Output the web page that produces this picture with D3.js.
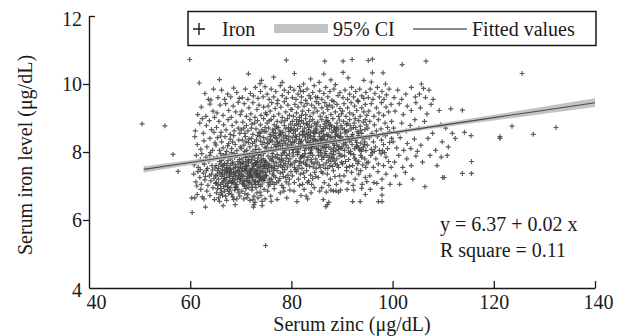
<!DOCTYPE html>
<html>
<head>
<meta charset="utf-8">
<script src="https://cdn.jsdelivr.net/npm/d3@7"></script>
<style>
  html, body { margin: 0; padding: 0; background: #fff; }
  svg { display: block; }
</style>
</head>
<body>
<div id="chart"></div>
<script>
// Scatter: [serum zinc, serum iron], grouped by zinc band
const outliersLeft = [[50.5,8.83],[55.0,8.77],[56.6,7.93],[57.6,7.43],[59.9,10.72],[60.3,6.65],[60.9,6.65],[60.4,6.22],[63.0,6.38],[61.8,10.03]];
const zinc60to65 = [
  [63.6,9.55],[64.1,9.53],[62.9,9.72],[64.6,9.85],
  [61.5,9.1],[62.2,9.32],[63.1,9.05],[63.9,9.41],[64.5,9.2],[64.8,9.02],
  [61.0,8.62],[61.9,8.85],[62.6,8.55],[63.2,8.78],[63.8,8.92],[64.2,8.66],[64.7,8.58],[62.4,8.98],
  [60.9,8.45],[61.4,8.22],[62.1,8.08],[62.7,8.33],[63.3,8.15],[63.9,8.4],[64.4,8.05],[64.9,8.27],
  [60.8,7.62],[61.2,7.9],[61.6,7.55],[62.0,7.78],[62.3,7.95],[62.8,7.64],[63.1,7.85],[63.4,7.52],[63.7,7.72],[64.0,7.98],[64.3,7.6],[64.6,7.81],[64.9,7.53],[62.5,7.7],[63.9,7.9],
  [60.7,7.35],[61.1,7.12],[61.5,7.42],[61.9,7.25],[62.2,7.05],[62.6,7.38],[62.9,7.18],[63.2,7.45],[63.5,7.02],[63.8,7.3],[64.1,7.15],[64.4,7.47],[64.7,7.22],[65.0,7.08],[62.0,7.48],[63.0,7.28],[64.2,7.35],[61.3,7.0],
  [61.4,6.75],[62.1,6.9],[62.7,6.62],[63.3,6.85],[63.9,6.72],[64.5,6.95],[64.8,6.6],[62.4,6.68]
];
const zinc65to70 = [
  [65.8,10.13],
  [65.5,9.6],[66.2,9.82],[66.8,9.55],[67.4,9.7],[68.0,9.62],[68.6,9.88],[69.2,9.75],[69.7,9.58],
  [65.3,9.15],[65.9,9.38],[66.5,9.08],[67.0,9.42],[67.6,9.22],[68.1,9.02],[68.5,9.35],[69.0,9.18],[69.5,9.46],[69.9,9.1],
  [65.2,8.72],[65.7,8.9],[66.1,8.58],[66.6,8.8],[67.1,8.65],[67.5,8.95],[67.9,8.52],[68.3,8.78],[68.7,8.62],[69.1,8.88],[69.5,8.7],[69.8,8.55],
  [65.1,8.2],[65.4,8.42],[65.8,8.05],[66.2,8.3],[66.5,8.12],[66.9,8.45],[67.2,8.02],[67.6,8.25],[67.9,8.38],[68.2,8.1],[68.6,8.48],[68.9,8.22],[69.2,8.04],[69.6,8.35],[69.9,8.15],[66.0,8.47],[67.4,8.18],[68.4,8.3],
  [65.1,7.6],[65.3,7.85],[65.6,7.52],[65.8,7.72],[66.0,7.95],[66.3,7.58],[66.5,7.8],[66.8,7.66],[67.0,7.92],[67.2,7.54],[67.5,7.75],[67.7,7.88],[67.9,7.6],[68.1,7.98],[68.4,7.7],[68.6,7.52],[68.8,7.84],[69.0,7.62],[69.3,7.9],[69.5,7.56],[69.7,7.78],[69.9,7.68],[65.9,7.64],[66.6,7.9],[67.3,7.66],[68.0,7.8],[68.7,7.95],[69.4,7.72],[66.2,7.75],[67.8,7.5],
  [65.0,7.3],[65.2,7.1],[65.4,7.45],[65.6,7.2],[65.8,7.38],[66.0,7.05],[66.2,7.28],[66.4,7.48],[66.6,7.15],[66.8,7.35],[67.0,7.02],[67.2,7.25],[67.4,7.42],[67.6,7.12],[67.8,7.32],[68.0,7.48],[68.2,7.08],[68.4,7.22],[68.6,7.4],[68.8,7.18],[69.0,7.3],[69.2,7.04],[69.4,7.45],[69.6,7.26],[69.8,7.12],[65.5,7.02],[66.1,7.4],[66.7,7.22],[67.3,7.08],[67.9,7.36],[68.5,7.28],[69.1,7.42],[69.7,7.38],[65.3,7.32],[66.9,7.46],[68.3,7.14],[69.9,7.22],[67.7,7.44],[66.3,7.1],[68.9,7.06],
  [65.2,6.8],[65.6,6.65],[66.0,6.92],[66.4,6.72],[66.8,6.85],[67.2,6.58],[67.6,6.78],[68.0,6.95],[68.4,6.68],[68.8,6.88],[69.2,6.62],[69.6,6.8],[65.8,6.55],[66.6,6.98],[67.4,6.9],[68.2,6.75],[69.0,6.96],[69.8,6.7],[65.4,6.92],[67.0,6.7],[68.6,6.6],[69.4,6.9],[66.2,6.82],[67.8,6.85],[65.9,6.75],
  [66.5,6.42],[68.9,6.45]
];
const zinc70to75 = [
  [73.8,10.01],[74.1,10.11],[71.5,10.3],
  [70.3,9.6],[70.9,9.85],[71.4,9.55],[71.9,9.72],[72.5,9.65],[72.9,9.9],[73.4,9.58],[73.9,9.78],[74.4,9.62],[74.8,9.92],
  [70.2,9.2],[70.7,9.42],[71.1,9.05],[71.6,9.3],[72.0,9.12],[72.4,9.45],[72.8,9.02],[73.2,9.25],[73.6,9.38],[74.0,9.08],[74.5,9.32],[74.9,9.15],
  [70.1,8.65],[70.4,8.88],[70.8,8.55],[71.1,8.78],[71.4,8.62],[71.8,8.95],[72.1,8.7],[72.4,8.52],[72.7,8.85],[73.0,8.68],[73.3,8.92],[73.6,8.58],[73.9,8.8],[74.2,8.65],[74.5,8.98],[74.8,8.72],[70.6,8.7],[72.2,8.82],[73.8,8.55],[74.6,8.6],
  [70.1,8.1],[70.3,8.35],[70.6,8.2],[70.9,8.45],[71.2,8.05],[71.5,8.28],[71.8,8.15],[72.1,8.4],[72.4,8.02],[72.7,8.3],[73.0,8.18],[73.3,8.48],[73.6,8.08],[73.9,8.32],[74.2,8.22],[74.5,8.42],[74.8,8.12],[70.8,8.02],[71.6,8.38],[72.3,8.25],[73.1,8.36],[73.8,8.46],[74.6,8.28],[72.9,8.08],[71.0,8.3],
  [70.0,7.55],[70.2,7.8],[70.4,7.65],[70.6,7.95],[70.8,7.52],[71.0,7.72],[71.2,7.88],[71.4,7.6],[71.6,7.78],[71.8,7.5],[72.0,7.92],[72.2,7.68],[72.4,7.85],[72.6,7.58],[72.8,7.75],[73.0,7.98],[73.2,7.62],[73.4,7.82],[73.6,7.55],[73.8,7.7],[74.0,7.9],[74.2,7.64],[74.4,7.8],[74.6,7.52],[74.8,7.74],[70.5,7.7],[71.1,7.58],[71.7,7.92],[72.3,7.52],[72.9,7.66],[73.5,7.92],[74.1,7.76],[74.7,7.6],[70.9,7.84],[72.1,7.78],[73.3,7.72],[74.5,7.96],[71.5,7.68],[73.9,7.58],[72.7,7.9],
  [70.0,7.2],[70.2,7.42],[70.4,7.08],[70.6,7.3],[70.8,7.15],[71.0,7.45],[71.2,7.02],[71.4,7.28],[71.6,7.38],[71.8,7.1],[72.0,7.32],[72.2,7.48],[72.4,7.18],[72.6,7.4],[72.8,7.05],[73.0,7.26],[73.2,7.44],[73.4,7.12],[73.6,7.34],[73.8,7.22],[74.0,7.46],[74.2,7.06],[74.4,7.3],[74.6,7.16],[74.8,7.4],[70.3,7.28],[70.7,7.46],[71.1,7.22],[71.5,7.12],[71.9,7.44],[72.3,7.26],[72.7,7.14],[73.1,7.36],[73.5,7.04],[73.9,7.28],[74.3,7.42],[74.7,7.24],[70.5,7.14],[71.3,7.36],[72.1,7.06],[72.9,7.46],[73.7,7.16],[74.5,7.2],[71.7,7.24],[73.3,7.32],
  [70.2,6.85],[70.6,6.62],[71.0,6.92],[71.4,6.75],[71.8,6.58],[72.2,6.88],[72.6,6.7],[73.0,6.95],[73.4,6.65],[73.8,6.82],[74.2,6.55],[74.6,6.9],[70.8,6.78],[71.6,6.95],[72.4,6.6],[73.2,6.8],[74.0,6.72],[74.8,6.62],[72.8,6.52],[71.2,6.66],
  [72.5,6.38],[72.6,6.45],[74.2,6.42],[74.9,5.25]
];
const zinc75to80 = [
  [79.0,10.7],[76.5,10.2],[78.2,10.05],
  [75.2,9.7],[75.6,9.55],[76.0,9.85],[76.5,9.62],[76.9,9.78],[77.3,9.52],[77.8,9.95],[78.2,9.66],[78.6,9.82],[79.0,9.58],[79.4,9.75],[79.8,9.9],
  [75.1,9.1],[75.4,9.35],[75.8,9.2],[76.1,9.45],[76.5,9.05],[76.8,9.28],[77.2,9.42],[77.5,9.12],[77.9,9.32],[78.2,9.02],[78.6,9.48],[78.9,9.18],[79.3,9.38],[79.6,9.08],[79.9,9.25],
  [75.0,8.6],[75.2,8.85],[75.5,8.7],[75.8,8.52],[76.0,8.95],[76.3,8.65],[76.6,8.8],[76.9,8.55],[77.2,8.9],[77.4,8.72],[77.7,8.62],[78.0,8.88],[78.3,8.58],[78.6,8.78],[78.9,8.68],[79.2,8.98],[79.5,8.6],[79.8,8.82],[75.6,8.92],[76.4,8.58],[77.1,8.75],[77.9,8.52],[78.7,8.92],[79.4,8.72],[76.8,8.68],
  [75.0,8.15],[75.2,8.38],[75.4,8.05],[75.6,8.28],[75.8,8.45],[76.0,8.12],[76.2,8.32],[76.4,8.02],[76.6,8.22],[76.8,8.42],[77.0,8.08],[77.2,8.3],[77.4,8.18],[77.6,8.48],[77.8,8.1],[78.0,8.35],[78.2,8.2],[78.4,8.44],[78.6,8.04],[78.8,8.26],[79.0,8.4],[79.2,8.14],[79.4,8.36],[79.6,8.06],[79.8,8.3],[75.3,8.25],[75.9,8.35],[76.5,8.48],[77.1,8.4],[77.7,8.25],[78.3,8.12],[78.9,8.08],[79.5,8.46],[76.9,8.16],[78.5,8.32],
  [75.0,7.7],[75.2,7.52],[75.4,7.88],[75.6,7.65],[75.8,7.8],[76.0,7.55],[76.2,7.95],[76.4,7.72],[76.6,7.6],[76.8,7.85],[77.0,7.68],[77.2,7.92],[77.4,7.58],[77.6,7.78],[77.8,7.62],[78.0,7.9],[78.2,7.54],[78.4,7.75],[78.6,7.98],[78.8,7.66],[79.0,7.82],[79.2,7.56],[79.4,7.72],[79.6,7.94],[79.8,7.62],[75.5,7.6],[76.1,7.76],[76.7,7.52],[77.3,7.82],[77.9,7.7],[78.5,7.6],[79.1,7.9],[79.7,7.8],[76.3,7.86],[78.1,7.8],
  [75.1,7.3],[75.4,7.1],[75.7,7.42],[76.0,7.2],[76.3,7.35],[76.6,7.05],[76.9,7.25],[77.2,7.45],[77.5,7.15],[77.8,7.38],[78.1,7.02],[78.4,7.28],[78.7,7.48],[79.0,7.12],[79.3,7.32],[79.6,7.2],[79.9,7.42],[75.8,7.05],[76.5,7.46],[77.1,7.1],[77.7,7.22],[78.3,7.4],[78.9,7.25],[79.5,7.06],[76.2,7.12],
  [75.3,6.85],[75.9,6.7],[76.6,6.92],[77.2,6.6],[77.8,6.8],[78.4,6.95],[78.5,6.85],[79.1,6.65],[79.7,6.88],[76.0,6.55]
];
const zinc80to85 = [
  [80.6,10.31],[82.4,10.0],[83.8,10.15],
  [80.2,9.6],[80.5,9.82],[80.9,9.55],[81.3,9.7],[81.6,9.92],[82.0,9.62],[82.4,9.78],[82.8,9.52],[83.1,9.85],[83.5,9.66],[83.8,9.58],[84.2,9.75],[84.5,9.95],[84.8,9.62],[81.8,9.8],
  [80.1,9.25],[80.4,9.05],[80.7,9.4],[81.0,9.15],[81.3,9.32],[81.6,9.02],[81.9,9.45],[82.2,9.2],[82.5,9.35],[82.8,9.1],[83.1,9.42],[83.4,9.22],[83.7,9.05],[84.0,9.38],[84.3,9.15],[84.6,9.3],[84.9,9.48],[82.0,9.08],
  [80.0,8.7],[80.2,8.9],[80.4,8.55],[80.6,8.78],[80.8,8.62],[81.0,8.95],[81.2,8.68],[81.4,8.82],[81.6,8.52],[81.8,8.75],[82.0,8.92],[82.2,8.6],[82.4,8.85],[82.6,8.7],[82.8,8.98],[83.0,8.56],[83.2,8.8],[83.4,8.65],[83.6,8.9],[83.8,8.58],[84.0,8.76],[84.2,8.95],[84.4,8.62],[84.6,8.84],[84.8,8.7],[80.5,8.66],[81.5,8.9],[82.5,8.52],[83.5,8.72],[84.5,8.55],
  [80.0,8.2],[80.2,8.42],[80.4,8.08],[80.6,8.3],[80.8,8.15],[81.0,8.45],[81.2,8.02],[81.4,8.25],[81.6,8.38],[81.8,8.12],[82.0,8.32],[82.2,8.48],[82.4,8.18],[82.6,8.05],[82.8,8.36],[83.0,8.22],[83.2,8.44],[83.4,8.1],[83.6,8.28],[83.8,8.4],[84.0,8.06],[84.2,8.24],[84.4,8.46],[84.6,8.16],[84.8,8.34],[80.3,8.28],[80.9,8.36],[81.5,8.14],[82.1,8.22],[82.7,8.44],[83.3,8.3],[83.9,8.16],[84.5,8.38],[81.1,8.1],[83.7,8.48],
  [80.1,7.65],[80.3,7.88],[80.6,7.55],[80.9,7.75],[81.2,7.92],[81.5,7.6],[81.8,7.82],[82.1,7.52],[82.4,7.7],[82.7,7.95],[83.0,7.62],[83.3,7.85],[83.6,7.58],[83.9,7.78],[84.2,7.9],[84.5,7.66],[84.8,7.8],[80.7,7.7],[81.3,7.5],[81.9,7.68],[82.5,7.86],[83.1,7.76],[83.7,7.96],[84.3,7.56],[84.9,7.52],[80.4,7.98],[81.6,7.72],[82.8,7.64],[84.0,7.7],[82.2,7.9],
  [80.2,7.3],[80.6,7.1],[81.0,7.42],[81.4,7.2],[81.8,7.35],[82.2,7.05],[82.6,7.25],[83.0,7.45],[83.4,7.15],[83.8,7.32],[84.2,7.22],[84.6,7.4],[80.8,7.48],[81.6,7.02],[82.4,7.38],[83.2,7.1],[84.0,7.05],[84.8,7.28],
  [80.5,6.85],[81.1,6.54],[81.9,6.72],[82.5,6.9],[83.2,6.62],[83.9,6.8],[84.5,6.95],[82.9,6.7]
];
const zinc85to90 = [
  [86.6,10.67],[86.4,10.29],[85.5,10.05],[87.8,10.12],
  [85.2,9.6],[85.6,9.8],[86.0,9.55],[86.4,9.72],[86.8,9.9],[87.2,9.62],[87.6,9.78],[88.0,9.52],[88.4,9.85],[88.7,9.98],[89.2,9.66],[89.6,9.75],
  [85.1,9.2],[85.4,9.42],[85.7,9.05],[86.0,9.3],[86.3,9.15],[86.6,9.45],[86.9,9.02],[87.2,9.25],[87.5,9.38],[87.8,9.1],[88.1,9.32],[88.4,9.48],[88.7,9.18],[89.0,9.4],[89.3,9.05],[89.6,9.28],[89.9,9.12],[87.0,9.35],
  [85.0,8.65],[85.2,8.88],[85.5,8.55],[85.7,8.75],[86.0,8.95],[86.2,8.62],[86.5,8.82],[86.7,8.7],[87.0,8.52],[87.2,8.92],[87.5,8.68],[87.7,8.8],[88.0,8.58],[88.2,8.98],[88.5,8.72],[88.7,8.6],[89.0,8.85],[89.2,8.66],[89.5,8.94],[89.7,8.56],[85.9,8.6],[86.8,8.9],[87.9,8.76],[88.9,8.52],[89.8,8.78],[86.3,8.5],[87.4,8.86],[88.4,8.64],
  [85.0,8.1],[85.2,8.32],[85.4,8.2],[85.6,8.45],[85.8,8.05],[86.0,8.28],[86.2,8.4],[86.4,8.12],[86.6,8.35],[86.8,8.02],[87.0,8.22],[87.2,8.46],[87.4,8.15],[87.6,8.3],[87.8,8.08],[88.0,8.42],[88.2,8.25],[88.4,8.12],[88.6,8.36],[88.8,8.04],[89.0,8.2],[89.2,8.48],[89.4,8.16],[89.6,8.32],[89.8,8.1],[85.3,8.08],[85.9,8.38],[86.5,8.22],[87.1,8.34],[87.7,8.44],[88.3,8.02],[88.9,8.3],[89.5,8.42],[86.1,8.16],[88.7,8.46],
  [85.1,7.7],[85.4,7.9],[85.7,7.55],[86.0,7.78],[86.3,7.62],[86.6,7.95],[86.9,7.68],[87.2,7.52],[87.5,7.85],[87.8,7.72],[88.1,7.58],[88.4,7.92],[88.7,7.65],[89.0,7.8],[89.3,7.55],[89.6,7.88],[89.9,7.7],[85.5,7.62],[86.4,7.84],[87.3,7.76],[88.2,7.82],[89.1,7.62],[85.8,7.98],[86.7,7.52],[87.6,7.6],[88.5,7.74],[89.4,7.96],[87.0,7.9],
  [85.3,7.25],[85.9,7.42],[86.5,7.1],[87.1,7.35],[87.7,7.2],[88.3,7.45],[88.9,7.05],[89.5,7.3],[86.2,7.38],[87.4,7.02],[88.6,7.28],[89.8,7.15],
  [85.6,6.85],[86.3,6.6],[86.9,6.82],[87.4,6.52],[87.8,6.88],[88.3,6.85],[88.8,6.86],[89.3,6.82],[89.7,6.88],[86.0,6.95],
  [86.8,6.39],[87.1,6.45]
];
const zinc90to95 = [
  [90.2,10.67],[92.0,10.72],[90.2,10.34],[91.2,10.18],[94.3,10.11],
  [90.2,9.6],[90.6,9.82],[91.1,9.55],[91.5,9.7],[91.9,9.9],[92.3,9.62],[92.7,9.78],[93.1,9.52],[93.5,9.85],[93.9,9.65],[94.3,9.58],[94.7,9.75],
  [90.1,9.2],[90.4,9.42],[90.8,9.05],[91.1,9.3],[91.5,9.15],[91.8,9.45],[92.2,9.1],[92.5,9.35],[92.9,9.22],[93.2,9.48],[93.6,9.05],[93.9,9.3],[94.3,9.18],[94.6,9.4],[94.9,9.08],
  [90.0,8.7],[90.3,8.9],[90.6,8.56],[90.9,8.8],[91.2,8.62],[91.5,8.95],[91.8,8.68],[92.1,8.52],[92.4,8.85],[92.7,8.72],[93.0,8.6],[93.3,8.92],[93.6,8.76],[93.9,8.55],[94.2,8.88],[94.5,8.66],[94.8,8.8],[90.5,8.66],[91.6,8.78],[92.6,8.98],[93.7,8.64],[94.6,8.95],
  [90.0,8.15],[90.2,8.38],[90.5,8.05],[90.7,8.28],[91.0,8.45],[91.2,8.12],[91.5,8.32],[91.7,8.02],[92.0,8.22],[92.2,8.42],[92.5,8.1],[92.7,8.35],[93.0,8.18],[93.2,8.48],[93.5,8.06],[93.7,8.26],[94.0,8.4],[94.2,8.14],[94.5,8.3],[94.7,8.04],[94.9,8.44],[90.8,8.2],[91.9,8.46],[92.9,8.28],[93.9,8.08],[91.3,8.38],[93.3,8.12],[94.4,8.22],
  [90.1,7.65],[90.5,7.88],[90.9,7.55],[91.3,7.78],[91.7,7.95],[92.1,7.6],[92.5,7.82],[92.9,7.5],[93.3,7.72],[93.7,7.9],[94.1,7.62],[94.5,7.8],[94.9,7.68],[90.7,7.72],[91.5,7.58],[92.3,7.92],[93.1,7.66],[93.9,7.84],[94.7,7.55],[92.7,7.76],
  [90.4,7.3],[91.2,7.1],[91.9,7.4],[92.6,7.2],[93.3,7.35],[94.0,7.05],[94.6,7.25],[90.9,7.45],[92.2,7.02],[93.7,7.45],
  [92.1,6.54],[92.3,6.88],[93.6,6.54],[93.9,6.93],[94.9,7.13],[91.0,6.9],[94.6,6.75]
];
const zinc95to100 = [
  [95.2,10.69],[96.0,10.73],[96.0,10.33],[98.1,10.33],[95.8,10.06],[98.6,10.0],
  [95.2,9.6],[95.6,9.85],[96.1,9.55],[96.5,9.72],[97.0,9.9],[97.4,9.62],[97.9,9.78],[98.3,9.55],[98.8,9.68],[99.3,9.85],
  [95.3,9.2],[95.8,9.42],[96.3,9.05],[96.8,9.3],[97.3,9.15],[97.8,9.45],[98.2,9.08],[98.7,9.32],[99.2,9.18],[99.7,9.4],
  [95.1,8.7],[95.5,8.9],[95.9,8.55],[96.4,8.8],[96.8,8.62],[97.2,8.95],[97.7,8.68],[98.1,8.52],[98.5,8.85],[99.0,8.72],[99.4,8.6],[99.8,8.9],
  [95.0,8.2],[95.4,8.42],[95.8,8.08],[96.2,8.3],[96.6,8.15],[97.0,8.45],[97.4,8.05],[97.8,8.35],[98.2,8.22],[98.6,8.48],[99.0,8.1],[99.4,8.28],[99.8,8.4],[96.4,8.02],[98.0,8.04],
  [95.2,7.7],[95.7,7.9],[96.2,7.55],[96.7,7.8],[97.2,7.65],[97.7,7.95],[98.2,7.6],[98.7,7.85],[99.2,7.72],[99.7,7.55],[96.0,7.98],[98.4,7.98],
  [95.5,7.3],[96.3,7.1],[97.1,7.42],[97.9,7.2],[98.7,7.35],[99.5,7.05],
  [96.9,7.08],[97.9,6.93],[97.9,6.73],[97.2,6.54],[97.9,6.54],[95.6,6.9]
];
const zinc100to116 = [
  [101.9,10.57],[106.6,10.67],[103.7,9.9],[105.7,10.0],[106.1,9.87],
  [100.3,9.6],[101.0,9.82],[101.8,9.55],[102.6,9.7],[104.5,9.62],
  [100.5,9.2],[101.3,9.42],[102.1,9.1],[102.9,9.35],[103.7,9.22],[104.6,9.45],
  [100.2,8.7],[101.0,8.55],[101.8,8.85],[102.7,8.62],[103.5,8.78],[104.4,8.95],
  [100.1,8.3],[100.8,8.12],[101.5,8.42],[102.2,8.05],[102.9,8.25],[103.6,8.1],[104.3,8.38],[104.9,8.02],
  [100.4,7.7],[101.2,7.9],[102.0,7.55],[102.8,7.8],[103.7,7.6],[104.6,7.88],
  [100.6,7.3],[101.4,7.05],[102.5,7.4],[104.0,7.2],
  [105.3,9.7],[106.5,9.6],[107.2,9.82],[108.0,9.55],
  [105.5,9.3],[106.8,9.12],[107.6,9.4],[109.2,9.22],
  [105.2,8.7],[106.3,8.9],[107.9,8.55],[109.5,8.8],
  [105.6,8.2],[107.0,8.4],[108.5,8.05],[109.8,8.3],
  [105.9,7.7],[107.4,7.9],[108.8,7.6],[109.6,7.85],
  [106.4,6.98],[109.9,7.25],
  [111.5,9.27],[113.8,9.23],[110.5,8.7],[111.8,8.55],[114.2,8.58],[115.5,8.48],
  [111.0,8.15],[112.4,8.4],[110.8,7.9],[115.6,7.72],[113.8,7.37],[115.6,7.37],[110.2,7.25]
];
const outliersRight = [[121.2,8.45],[121.2,8.4],[123.6,8.76],[125.6,10.31],[127.8,8.52],[132.3,8.72]];
// Extra marks where the two dark cores are packed tighter
const coreLow = [
  [66.4,7.33],[66.9,7.18],[67.3,7.52],[67.7,7.27],[68.1,7.41],[68.5,7.09],[68.9,7.55],[69.3,7.2],[69.7,7.47],[70.1,7.34],
  [70.5,7.05],[70.9,7.58],[71.3,7.16],[71.7,7.43],[72.1,7.29],[72.5,7.62],[72.9,7.12],[73.3,7.5],[73.7,7.38],[74.1,7.2],
  [74.5,7.57],[74.9,7.32],[75.3,7.47],[75.7,7.2],[76.1,7.55],[76.5,7.3],[66.6,7.61],[67.5,6.98],[68.3,7.66],[69.1,6.98],
  [69.9,7.64],[70.7,6.99],[71.5,7.74],[72.3,6.97],[73.1,7.68],[73.9,6.99],[74.7,7.69],[75.5,7.0],[67.1,7.4],[68.7,7.35],
  [70.3,7.52],[71.9,7.33],[73.5,7.27],[75.1,7.62],[72.7,7.36],[71.1,7.5],[69.5,7.31],[67.9,7.16]
];
const coreMid = [
  [80.3,8.06],[80.8,8.47],[81.3,7.98],[81.8,8.29],[82.3,8.61],[82.8,8.14],[83.3,8.52],[83.8,7.98],[84.3,8.33],[84.8,8.58],
  [85.3,8.0],[85.8,8.36],[86.3,8.69],[86.8,8.13],[87.3,8.5],[87.8,7.96],[88.3,8.31],[88.8,8.68],[89.3,8.08],[89.8,8.45],
  [90.3,8.24],[90.8,8.6],[91.3,7.99],[91.8,8.35],[92.3,8.72],[92.8,8.16],[93.3,8.55],[93.8,8.02],[94.3,8.41],[77.3,8.27],
  [77.8,8.56],[78.3,7.97],[78.8,8.49],[79.3,8.21],[79.8,8.63],[81.0,8.82],[83.0,8.83],[85.0,8.8],[87.0,8.77],[89.0,8.73],
  [91.0,8.84],[86.0,7.88],[88.0,7.84],[90.0,7.9],[82.0,7.86],[84.0,8.12],[86.5,8.47],[88.5,8.19]
];

// Fitted line and its 95% CI, read at a few zinc values
const fitZinc = [50.8, 60, 70, 80, 90, 100, 110, 120, 130, 140];
const fitIron = [7.49, 7.69, 7.91, 8.13, 8.35, 8.57, 8.79, 9.01, 9.23, 9.45];
const ciLower = [7.40, 7.62, 7.86, 8.085, 8.305, 8.52, 8.725, 8.925, 9.125, 9.32];
const ciUpper = [7.58, 7.76, 7.96, 8.175, 8.395, 8.62, 8.855, 9.095, 9.335, 9.58];

// Axis ticks and texts
const xTicks = [40, 60, 80, 100, 120, 140];
const yTicks = [4, 6, 8, 10, 12];
const legendLabels = ["Iron", "95% CI", "Fitted values"];
const equationLines = ["y = 6.37 + 0.02 x", "R square = 0.11"];

const W = 626, H = 336;
const FONT = "'Liberation Serif','Times New Roman',serif";
const INK = "#1a1a1a";

const svg = d3.select("#chart").append("svg")
    .attr("width", W).attr("height", H)
    .style("font-family", FONT);
svg.append("rect").attr("width", W).attr("height", H).attr("fill", "#fff");

const x = d3.scaleLinear().domain([40, 140]).range([89, 595]);
const y = d3.scaleLinear().domain([4, 12]).range([288, 16]);

// Points
const Points = [].concat(outliersLeft, zinc60to65, zinc65to70, zinc70to75, zinc75to80,
    zinc80to85, zinc85to90, zinc90to95, zinc95to100, zinc100to116, outliersRight, coreLow, coreMid)
    .map(([Zinc, Iron]) => ({ Zinc, Iron }));
svg.append("g").attr("class", "points")
    .selectAll("path").data(Points).join("path")
    .attr("transform", (D) => `translate(${x(D.Zinc).toFixed(1)},${y(D.Iron).toFixed(1)})`)
    .attr("d", "M-2.5,0H2.5M0,-2.5V2.5")
    .attr("stroke", "#404040")
    .attr("stroke-opacity", 0.85)
    .attr("stroke-width", 1.2)
    .attr("fill", "none");

// CI band and fitted line
const Fit = fitZinc.map((Z, I) => ({ Z, F: fitIron[I], L: ciLower[I], U: ciUpper[I] }));
svg.append("path").datum(Fit)
    .attr("d", d3.area().x((D) => x(D.Z)).y0((D) => y(D.L)).y1((D) => y(D.U)))
    .attr("fill", "#bdbdbd").attr("fill-opacity", 0.9);
svg.append("path").datum(Fit)
    .attr("d", d3.line().x((D) => x(D.Z)).y((D) => y(D.F)))
    .attr("fill", "none").attr("stroke", "#4a4a4a").attr("stroke-width", 1.1);

// Axes
const XAxis = svg.append("g").attr("transform", `translate(0,${y(4)})`)
    .call(d3.axisBottom(x).tickValues(xTicks).tickSize(-7).tickSizeOuter(0).tickPadding(7));
const YAxis = svg.append("g").attr("transform", `translate(${x(40)},0)`)
    .call(d3.axisLeft(y).tickValues(yTicks).tickSize(6).tickSizeOuter(0).tickPadding(1));
[XAxis, YAxis].forEach((A) => {
    A.select(".domain").attr("stroke", INK).attr("stroke-width", 1.4);
    A.selectAll(".tick line").attr("stroke", INK).attr("stroke-width", 1.3);
    A.selectAll(".tick text").attr("fill", INK).style("font-family", FONT).style("font-size", "20px");
});
// Corner tweaks as in the original
XAxis.selectAll(".tick").filter((D) => D === 40).select("line").remove();
XAxis.selectAll(".tick").filter((D) => D === 40).select("text").attr("x", 7);
XAxis.selectAll(".tick").filter((D) => D === 140).select("text").attr("x", 3);
YAxis.selectAll(".tick").filter((D) => D === 4).select("line").remove();
YAxis.selectAll(".tick").filter((D) => D === 4).select("text").attr("y", 2);
YAxis.selectAll(".tick").filter((D) => D === 12).select("line").attr("x2", 6);
YAxis.selectAll(".tick").filter((D) => D === 12).select("text").attr("y", 3);

// Axis titles
svg.append("text").attr("x", 352).attr("y", 331).attr("text-anchor", "middle")
    .attr("fill", INK).style("font-size", "20px").text("Serum zinc (μg/dL)");
svg.append("text").attr("transform", "translate(32,155) rotate(-90)").attr("text-anchor", "middle")
    .attr("fill", INK).style("font-size", "20px").text("Serum iron level (μg/dL)");

// Equation
svg.selectAll("text.eq").data(equationLines).join("text").attr("class", "eq")
    .attr("x", 440).attr("y", (D, I) => 231 + I * 26)
    .attr("fill", INK).style("font-size", "20px").text((D) => D);

// Legend
const Legend = svg.append("g");
Legend.append("rect").attr("x", 188).attr("y", 11.5).attr("width", 408).attr("height", 34)
    .attr("fill", "#fff").attr("stroke", INK).attr("stroke-width", 1.5);
Legend.append("path").attr("d", "M193,29H205M199,23V35").attr("stroke", INK).attr("stroke-width", 1.4);
Legend.append("rect").attr("x", 274).attr("y", 24).attr("width", 54).attr("height", 9).attr("fill", "#c2c2c2");
Legend.append("line").attr("x1", 413).attr("x2", 467).attr("y1", 29).attr("y2", 29)
    .attr("stroke", INK).attr("stroke-width", 1.2);
Legend.selectAll("text").data(legendLabels).join("text")
    .attr("x", (D, I) => [222, 333, 472][I]).attr("y", 36)
    .attr("fill", INK).style("font-size", "20px").text((D) => D);
</script>
</body>
</html>
